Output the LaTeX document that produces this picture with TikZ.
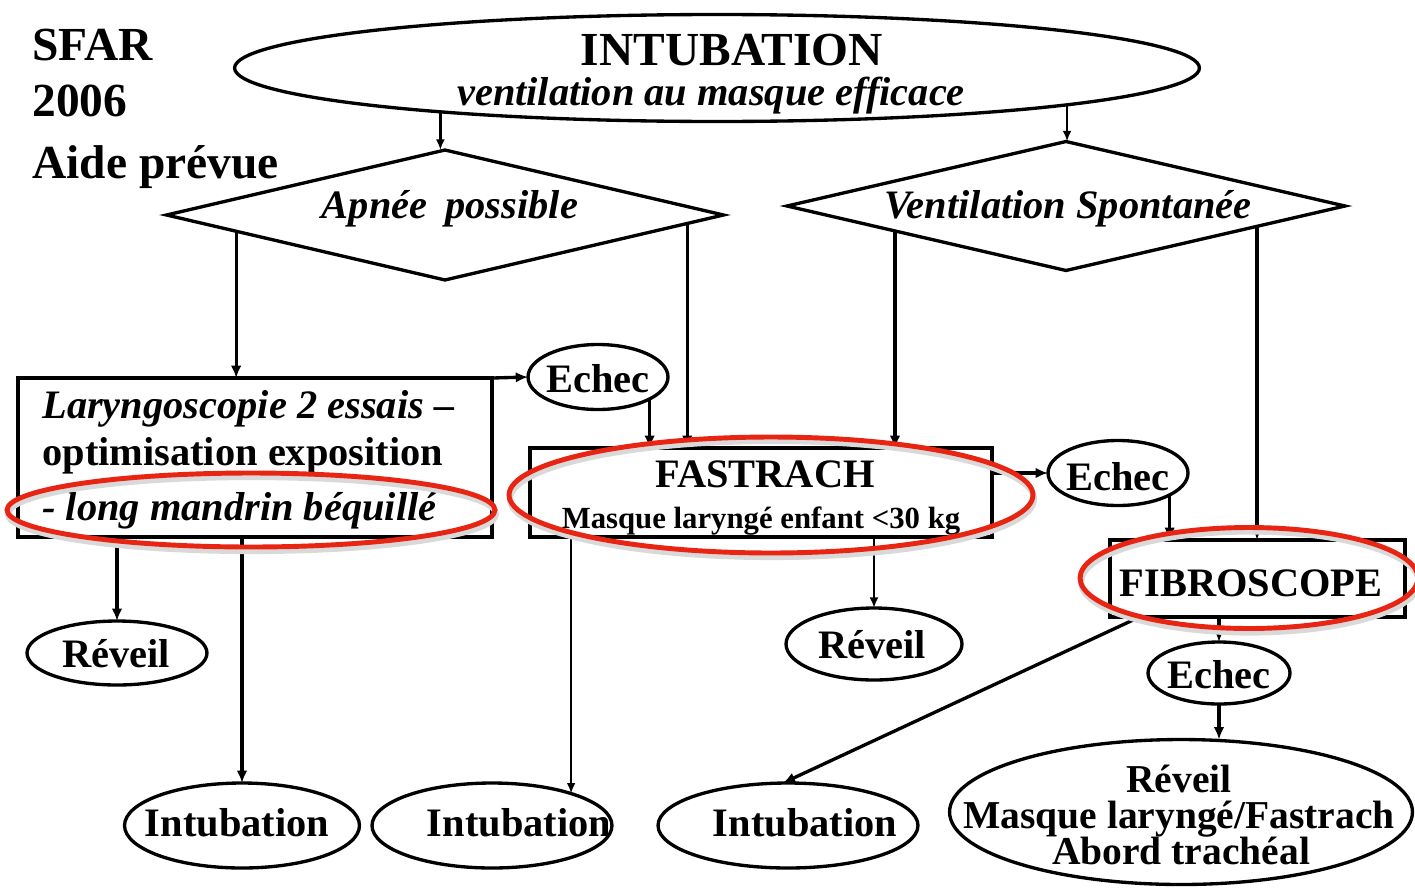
\documentclass[tikz,border=0pt]{standalone}
\usepackage{fontspec}
\setmainfont{Liberation Serif}
\usetikzlibrary{shapes.geometric,arrows.meta,calc}
\definecolor{annred}{RGB}{232,36,18}
\begin{document}
\begin{tikzpicture}[x=0.02cm,y=-0.02cm,
  shp/.style={draw, line width=1.9pt, inner sep=0pt, outer sep=0pt},
  ell/.style={shp, ellipse},
  dia/.style={shp, diamond},
  box/.style={shp, rectangle},
  arr/.style={line width=1.9pt, -{Latex[length=7pt,width=6pt]}},
  thinarr/.style={line width=1.3pt, -{Latex[length=6pt,width=5pt]}},
  txt/.style={font=\bfseries\fontsize{23}{23}\selectfont, inner sep=0pt, anchor=base},
  itxt/.style={font=\bfseries\itshape\fontsize{23}{23}\selectfont, inner sep=0pt, anchor=base},
  redmark/.style={draw=annred, line width=2.8pt},
  redshadow/.style={draw=black!15, line width=3.5pt}]
\useasboundingbox (0,0) rectangle (1415,889);

% header text
\node[txt, anchor=base west, font=\bfseries\fontsize{27}{27}\selectfont] (h1) at (32,60) {SFAR};
\node[txt, anchor=base west, font=\bfseries\fontsize{27}{27}\selectfont] (h2) at (32,116) {2006};
\node[txt, anchor=base west, font=\bfseries\fontsize{27}{27}\selectfont] (h3) at (32,178) {Aide prévue};

% shapes
\node[ell, minimum width=19.3cm, minimum height=2.14cm] (top) at (717,68) {};
\node[txt, font=\bfseries\fontsize{27}{27}\selectfont] (ttop1) at (732,65) {INTUBATION};
\node[itxt] (ttop2) at (711,105) {ventilation au masque efficace};

\node[dia, minimum width=11.14cm, minimum height=2.6cm] (d1) at (445,215) {};
\node[itxt] (td1) at (450,218) {Apnée\hspace{0.45em}possible};
\node[dia, minimum width=11.16cm, minimum height=2.58cm] (d2) at (1066,206) {};
\node[itxt] (td2) at (1068,218) {Ventilation Spontanée};

\node[box, minimum width=9.48cm, minimum height=3.18cm] (lar) at (255,457.5) {};
\node[itxt, anchor=base west] (tl1) at (42,418) {Laryngoscopie 2 essais –};
\node[txt, anchor=base west] (tl2) at (42,465) {optimisation exposition};
\node[itxt, anchor=base west] (tl3) at (42,520) {- long mandrin béquillé};

\node[ell, minimum width=2.8cm, minimum height=1.3cm] (e1) at (598,377) {};
\node[txt] (te1) at (598,392) {Echec};

\node[box, minimum width=9.24cm, minimum height=1.78cm] (fast) at (761,492.5) {};
\node[txt] (tf1) at (765,487) {FASTRACH};
\node[txt, font=\bfseries\fontsize{17.5}{17.5}\selectfont] (tf2) at (761,528) {Masque laryngé enfant <30 kg};

\node[ell, minimum width=2.8cm, minimum height=1.3cm] (e2) at (1118,473) {};
\node[txt] (te2) at (1118,490) {Echec};

\node[box, minimum width=5.9cm, minimum height=1.54cm] (fib) at (1257.5,578.5) {};
\node[txt] (tfib) at (1251,596) {FIBROSCOPE};

\node[ell, minimum width=2.84cm, minimum height=1.24cm] (e3) at (1219,673) {};
\node[txt] (te3) at (1219,688) {Echec};

\node[ell, minimum width=9.26cm, minimum height=2.9cm] (big) at (1181,812) {};
\node[txt, font=\bfseries\fontsize{22.5}{22.5}\selectfont] (tb1) at (1179,792) {Réveil};
\node[txt, font=\bfseries\fontsize{22.5}{22.5}\selectfont] (tb2) at (1179,828) {Masque laryngé/Fastrach};
\node[txt, font=\bfseries\fontsize{22.5}{22.5}\selectfont] (tb3) at (1181,864) {Abord trachéal};

\node[ell, minimum width=3.6cm, minimum height=1.28cm] (rev1) at (117,653) {};
\node[txt] (tr1) at (116,667) {Réveil};
\node[ell, minimum width=3.52cm, minimum height=1.44cm] (rev2) at (874,644) {};
\node[txt] (tr2) at (872,658) {Réveil};

\node[ell, minimum width=4.7cm, minimum height=1.7cm] (i1) at (242,825.5) {};
\node[txt] (ti1) at (237,836) {Intubation};
\node[ell, minimum width=4.8cm, minimum height=1.7cm] (i2) at (492,825.5) {};
\node[txt] (ti2) at (519,836) {Intubation};
\node[ell, minimum width=5.2cm, minimum height=1.7cm] (i3) at (788,825.5) {};
\node[txt] (ti3) at (805,836) {Intubation};

% connectors
\draw[thinarr] (top.189) -- (top.189 |- d1.north);
\draw[thinarr] (top.354) -- (top.354 |- d2.north);

\coordinate (p1) at ($(d1.west)!0.25!(d1.south)$);
\coordinate (p2) at ($(d1.south)!0.87!(d1.east)$);
\coordinate (p3) at ($(d2.west)!0.387!(d2.south)$);
\coordinate (p4) at ($(d2.south)!0.685!(d2.east)$);
\draw[arr] (p1) -- (p1 |- lar.north);
\draw[arr] (p2) -- (p2 |- fast.north);
\draw[arr] (p3) -- (p3 |- fast.north);
\draw[arr] (p4) -- (p4 |- fib.north);

\draw[arr] (lar.north east) -- (e1.west);
\draw[arr] (e1.337) -- (e1.337 |- fast.north);
\draw[arr] (fast.east |- e2.west) -- (e2.west);
\draw[arr] (e2.337) -- (e2.337 |- fib.north);
\draw[arr] (fib.south -| e3.north) -- (e3.north);
\draw[arr] (e3.south) -- (e3.south |- big.north);

\draw[arr] (lar.south -| rev1.north) -- (rev1.north);
\draw[arr] (lar.south -| i1.north) -- (i1.north);
\draw[thinarr] (fast.south -| i2.22.5) -- (i2.22.5);
\draw[thinarr] (fast.south -| rev2.north) -- (rev2.north);
\coordinate (p5) at ($(fib.south west)!0.1!(fib.south east)$);
\draw[arr] (p5) -- (i3.97);

% red annotation ellipses (with faint shadow)
\draw[redshadow] (252,514) ellipse [x radius=4.88cm, y radius=0.74cm];
\draw[redshadow] (772,499) ellipse [x radius=5.24cm, y radius=1.16cm];
\draw[redshadow] (1250,582) ellipse [x radius=3.38cm, y radius=1.01cm];
\draw[redmark] (251,510) ellipse [x radius=4.88cm, y radius=0.74cm];
\draw[redmark] (771,495) ellipse [x radius=5.24cm, y radius=1.16cm];
\draw[redmark] (1249,578) ellipse [x radius=3.38cm, y radius=1.01cm];
\end{tikzpicture}
\end{document}
